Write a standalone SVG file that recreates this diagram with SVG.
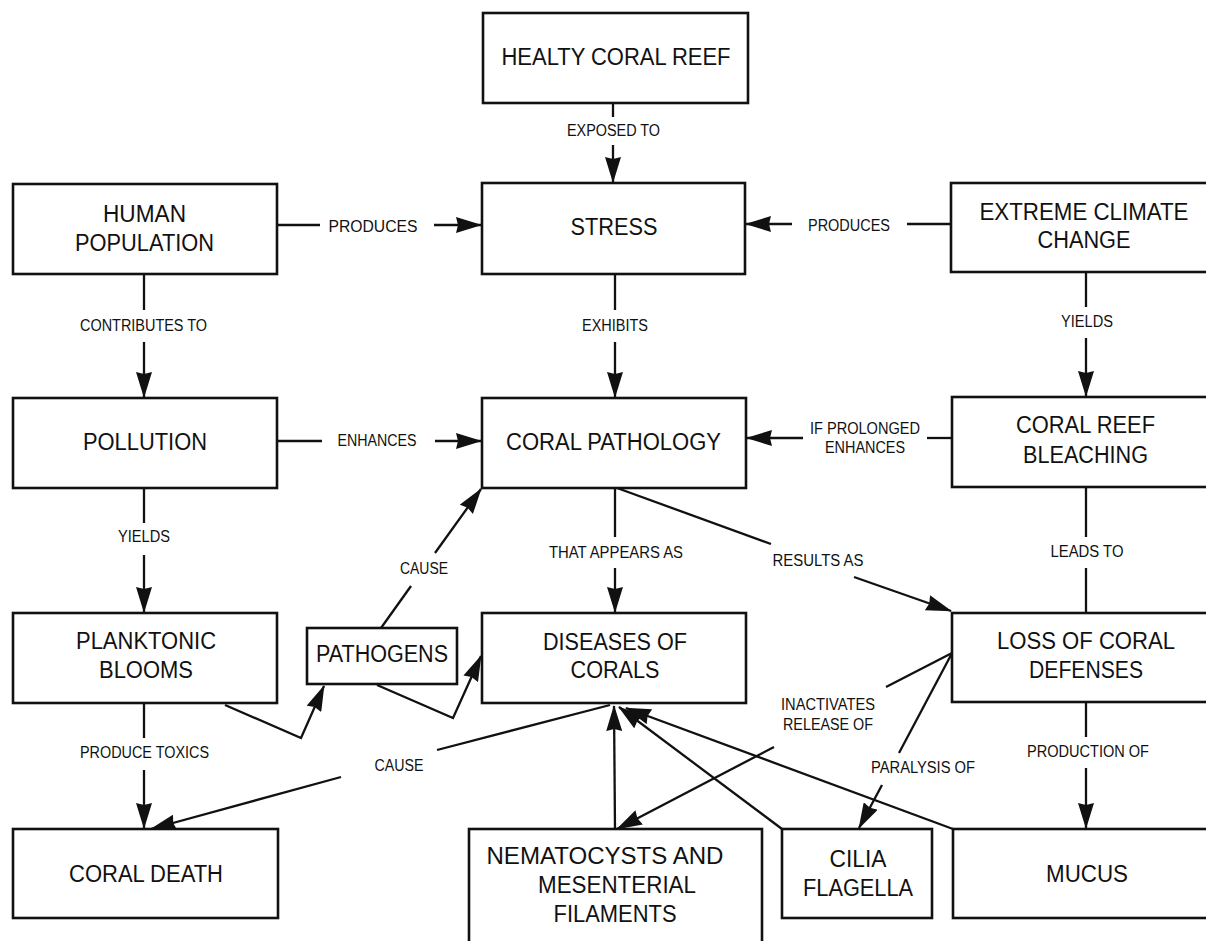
<svg xmlns="http://www.w3.org/2000/svg" width="1206" height="941" viewBox="0 0 1206 941">
<style>
.box{fill:#fff;stroke:#111;stroke-width:2.6}
.n{font-family:"Liberation Sans",Arial,sans-serif;font-size:23px;fill:#111;text-anchor:middle}
.l{font-family:"Liberation Sans",Arial,sans-serif;font-size:16px;fill:#111;text-anchor:middle}
.c{fill:none;stroke:#111;stroke-width:2.3}
.a{fill:none;stroke:#111;stroke-width:2.3;marker-end:url(#ah)}
</style>
<defs>
<marker id="ah" viewBox="0 0 26 16" markerWidth="26" markerHeight="16" refX="25" refY="8" orient="auto" markerUnits="userSpaceOnUse">
<path d="M0,0 L26,8 L0,16 L2,8 z" fill="#111"/>
</marker>
</defs>
<rect width="1206" height="941" fill="#fff"/>

<g id="connectors">
<line class="c" x1="613" y1="104" x2="613" y2="117"/>
<line class="a" x1="613" y1="145" x2="613" y2="182"/>
<line class="c" x1="277" y1="225" x2="320" y2="225"/>
<line class="a" x1="434" y1="225" x2="481" y2="225"/>
<line class="c" x1="951" y1="224" x2="907" y2="224"/>
<line class="a" x1="792" y1="224" x2="746" y2="224"/>
<line class="c" x1="615" y1="274" x2="615" y2="310"/>
<line class="a" x1="615" y1="342" x2="615" y2="397"/>
<line class="c" x1="144" y1="274" x2="144" y2="310"/>
<line class="a" x1="144" y1="342" x2="144" y2="397"/>
<line class="c" x1="1086" y1="272" x2="1086" y2="307"/>
<line class="a" x1="1086" y1="338" x2="1086" y2="396"/>
<line class="c" x1="277" y1="441" x2="322" y2="441"/>
<line class="a" x1="435" y1="441" x2="481" y2="441"/>
<line class="c" x1="952" y1="438" x2="927" y2="438"/>
<line class="a" x1="803" y1="438" x2="747" y2="438"/>
<line class="c" x1="144" y1="488" x2="144" y2="523"/>
<line class="a" x1="144" y1="555" x2="144" y2="612"/>
<line class="c" x1="615" y1="488" x2="615" y2="537"/>
<line class="a" x1="615" y1="568" x2="615" y2="612"/>
<line class="c" x1="617" y1="488" x2="771" y2="544"/>
<line class="a" x1="854" y1="577" x2="951" y2="611"/>
<line class="c" x1="1086" y1="487" x2="1086" y2="537"/>
<line class="c" x1="1086" y1="568" x2="1086" y2="613"/>
<line class="c" x1="381" y1="628" x2="411" y2="586"/>
<line class="a" x1="435" y1="553" x2="481" y2="489"/>
<polyline class="a" points="225,705 301,738 324,686"/>
<polyline class="a" points="377,685 453,718 481,656"/>
<line class="c" x1="144" y1="703" x2="144" y2="738"/>
<line class="a" x1="144" y1="770" x2="144" y2="828"/>
<line class="c" x1="610" y1="705" x2="437" y2="750"/>
<line class="a" x1="341" y1="777" x2="151" y2="829"/>
<line class="c" x1="952" y1="653" x2="886" y2="687"/>
<line class="a" x1="774" y1="747" x2="617" y2="829"/>
<line class="c" x1="951" y1="655" x2="899" y2="753"/>
<line class="a" x1="882" y1="785" x2="859" y2="828"/>
<line class="c" x1="1086" y1="702" x2="1086" y2="737"/>
<line class="a" x1="1086" y1="768" x2="1086" y2="828"/>
<line class="a" x1="615" y1="829" x2="614" y2="706"/>
<line class="a" x1="782" y1="829" x2="619" y2="707"/>
<line class="a" x1="953" y1="829" x2="626" y2="708"/>
</g>

<g id="connector-labels">
<text class="l" x="613.5" y="136" textLength="93" lengthAdjust="spacingAndGlyphs">EXPOSED TO</text>
<text class="l" x="373" y="232" textLength="89" lengthAdjust="spacingAndGlyphs">PRODUCES</text>
<text class="l" x="849" y="231" textLength="82" lengthAdjust="spacingAndGlyphs">PRODUCES</text>
<text class="l" x="143.5" y="331" textLength="127" lengthAdjust="spacingAndGlyphs">CONTRIBUTES TO</text>
<text class="l" x="615" y="331" textLength="66" lengthAdjust="spacingAndGlyphs">EXHIBITS</text>
<text class="l" x="1087" y="327" textLength="52" lengthAdjust="spacingAndGlyphs">YIELDS</text>
<text class="l" x="377" y="446" textLength="79" lengthAdjust="spacingAndGlyphs">ENHANCES</text>
<text class="l" x="865" y="434" textLength="110" lengthAdjust="spacingAndGlyphs">IF PROLONGED</text>
<text class="l" x="865" y="453" textLength="80" lengthAdjust="spacingAndGlyphs">ENHANCES</text>
<text class="l" x="144" y="542" textLength="52" lengthAdjust="spacingAndGlyphs">YIELDS</text>
<text class="l" x="424" y="574" textLength="48" lengthAdjust="spacingAndGlyphs">CAUSE</text>
<text class="l" x="616" y="558" textLength="134" lengthAdjust="spacingAndGlyphs">THAT APPEARS AS</text>
<text class="l" x="818" y="566" textLength="91" lengthAdjust="spacingAndGlyphs">RESULTS AS</text>
<text class="l" x="1087" y="557" textLength="73" lengthAdjust="spacingAndGlyphs">LEADS TO</text>
<text class="l" x="144.5" y="758" textLength="129" lengthAdjust="spacingAndGlyphs">PRODUCE TOXICS</text>
<text class="l" x="399" y="771" textLength="49" lengthAdjust="spacingAndGlyphs">CAUSE</text>
<text class="l" x="828" y="710" textLength="94" lengthAdjust="spacingAndGlyphs">INACTIVATES</text>
<text class="l" x="828" y="730" textLength="90" lengthAdjust="spacingAndGlyphs">RELEASE OF</text>
<text class="l" x="923" y="773" textLength="104" lengthAdjust="spacingAndGlyphs">PARALYSIS OF</text>
<text class="l" x="1088" y="757" textLength="122" lengthAdjust="spacingAndGlyphs">PRODUCTION OF</text>
</g>

<g id="healthy-coral-reef">
<rect class="box" x="483" y="13" width="265" height="90"/>
<text class="n" x="616" y="65" textLength="229" lengthAdjust="spacingAndGlyphs">HEALTY CORAL REEF</text>
</g>
<g id="human-population">
<rect class="box" x="13" y="184" width="264" height="90"/>
<text class="n" x="144.5" y="222" textLength="83" lengthAdjust="spacingAndGlyphs">HUMAN</text>
<text class="n" x="144.5" y="251" textLength="139" lengthAdjust="spacingAndGlyphs">POPULATION</text>
</g>
<g id="stress">
<rect class="box" x="482" y="183" width="263" height="91"/>
<text class="n" x="614" y="235" textLength="87" lengthAdjust="spacingAndGlyphs">STRESS</text>
</g>
<g id="extreme-climate-change">
<rect class="box" x="951" y="183" width="267" height="89"/>
<text class="n" x="1084" y="220" textLength="209" lengthAdjust="spacingAndGlyphs">EXTREME CLIMATE</text>
<text class="n" x="1084" y="248" textLength="93" lengthAdjust="spacingAndGlyphs">CHANGE</text>
</g>
<g id="pollution">
<rect class="box" x="13" y="398" width="264" height="90"/>
<text class="n" x="145" y="450" textLength="124" lengthAdjust="spacingAndGlyphs">POLLUTION</text>
</g>
<g id="coral-pathology">
<rect class="box" x="482" y="398" width="264" height="90"/>
<text class="n" x="613.5" y="450" textLength="215" lengthAdjust="spacingAndGlyphs">CORAL PATHOLOGY</text>
</g>
<g id="coral-reef-bleaching">
<rect class="box" x="952" y="397" width="266" height="90"/>
<text class="n" x="1085.5" y="433" textLength="139" lengthAdjust="spacingAndGlyphs">CORAL REEF</text>
<text class="n" x="1085.5" y="463" textLength="125" lengthAdjust="spacingAndGlyphs">BLEACHING</text>
</g>
<g id="planktonic-blooms">
<rect class="box" x="13" y="613" width="264" height="90"/>
<text class="n" x="146" y="649" textLength="140" lengthAdjust="spacingAndGlyphs">PLANKTONIC</text>
<text class="n" x="146" y="678" textLength="94" lengthAdjust="spacingAndGlyphs">BLOOMS</text>
</g>
<g id="pathogens">
<rect class="box" x="307" y="628" width="150" height="56"/>
<text class="n" x="382" y="662" textLength="132" lengthAdjust="spacingAndGlyphs">PATHOGENS</text>
</g>
<g id="diseases-of-corals">
<rect class="box" x="482" y="613" width="264" height="90"/>
<text class="n" x="615" y="650" textLength="144" lengthAdjust="spacingAndGlyphs">DISEASES OF</text>
<text class="n" x="615" y="678" textLength="89" lengthAdjust="spacingAndGlyphs">CORALS</text>
</g>
<g id="loss-of-coral-defenses">
<rect class="box" x="952" y="613" width="266" height="89"/>
<text class="n" x="1086" y="649" textLength="178" lengthAdjust="spacingAndGlyphs">LOSS OF CORAL</text>
<text class="n" x="1086" y="678" textLength="114" lengthAdjust="spacingAndGlyphs">DEFENSES</text>
</g>
<g id="coral-death">
<rect class="box" x="13" y="829" width="265" height="89"/>
<text class="n" x="146" y="882" textLength="154" lengthAdjust="spacingAndGlyphs">CORAL DEATH</text>
</g>
<g id="nematocysts">
<rect class="box" x="469" y="829" width="293" height="140"/>
<text class="n" x="605" y="864" textLength="237" lengthAdjust="spacingAndGlyphs">NEMATOCYSTS AND</text>
<text class="n" x="617" y="893" textLength="158" lengthAdjust="spacingAndGlyphs">MESENTERIAL</text>
<text class="n" x="615" y="922" textLength="123" lengthAdjust="spacingAndGlyphs">FILAMENTS</text>
</g>
<g id="cilia-flagella">
<rect class="box" x="782" y="829" width="150" height="89"/>
<text class="n" x="858" y="867" textLength="57" lengthAdjust="spacingAndGlyphs">CILIA</text>
<text class="n" x="858" y="896" textLength="110" lengthAdjust="spacingAndGlyphs">FLAGELLA</text>
</g>
<g id="mucus">
<rect class="box" x="953" y="829" width="265" height="89"/>
<text class="n" x="1087" y="882" textLength="82" lengthAdjust="spacingAndGlyphs">MUCUS</text>
</g>
</svg>
